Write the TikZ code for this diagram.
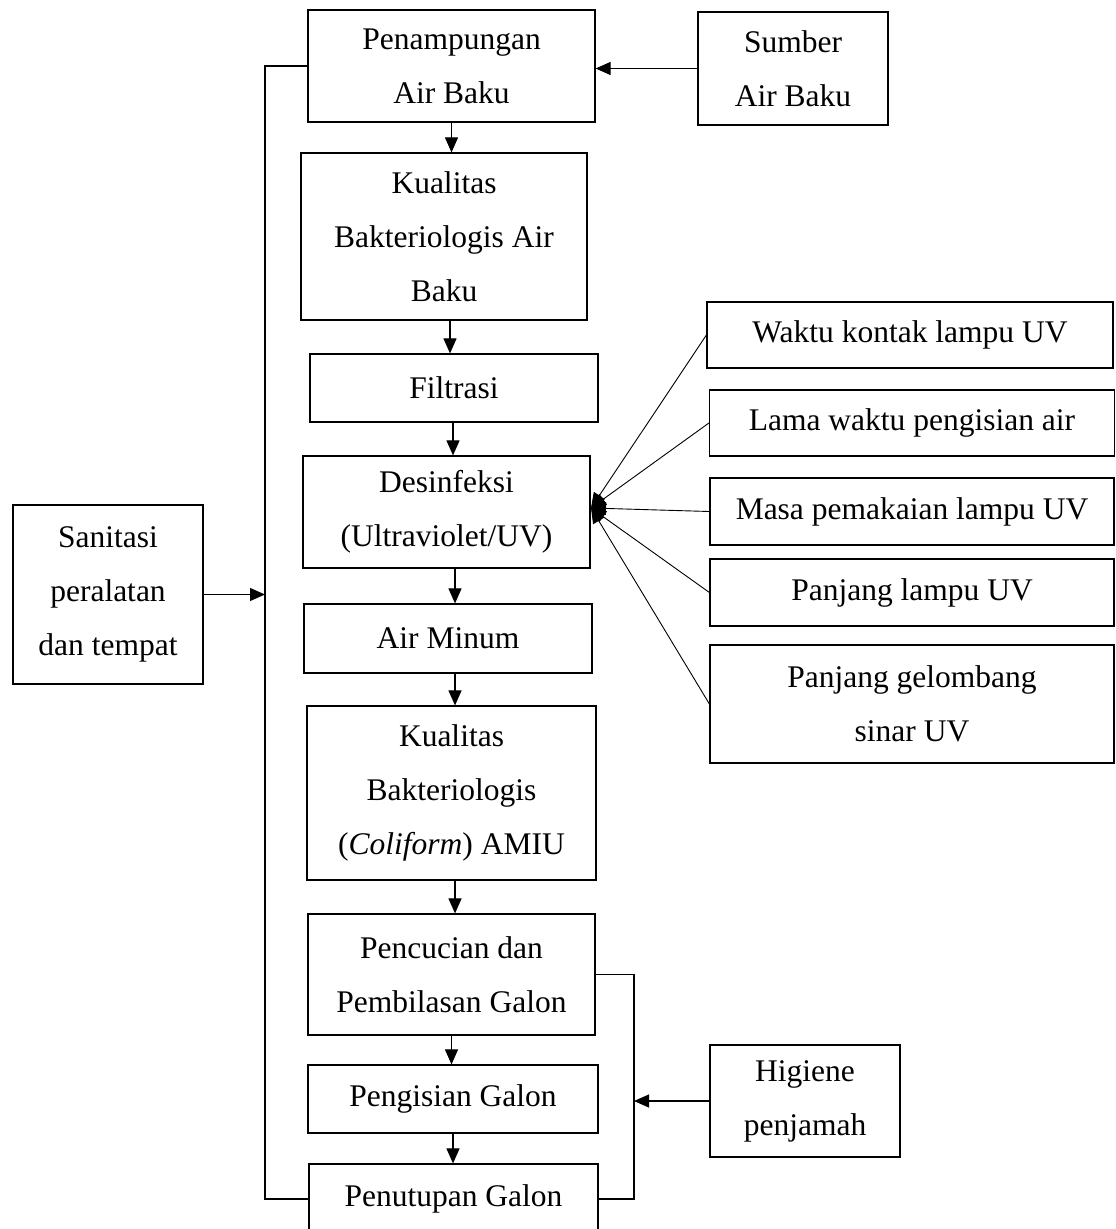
\documentclass[tikz,border=0pt]{standalone}
\usepackage{fontspec}
\setmainfont{Liberation Serif}
\usetikzlibrary{arrows.meta}
\begin{document}
\begin{tikzpicture}[x=1pt,y=-1pt,
  box/.style={draw, line width=1.2pt, align=center, inner sep=0pt, font=\fontsize{31.5pt}{54pt}\selectfont},
  arr/.style={-{Triangle[length=15pt,width=13pt]}, line width=1.1pt},
  uvarr/.style={-{Triangle[length=15pt,width=13pt]}, line width=0.9pt},
  ln/.style={line width=1.1pt}]
\useasboundingbox (0,0) rectangle (1116,1229);
\fill[white] (0,0) rectangle (1116,1229);
\clip (0,0) rectangle (1116,1229);
% main column
\node[box, minimum width=287pt, minimum height=112pt] (pen) at (451.5,66) {Penampungan\\Air Baku};
\node[box, minimum width=190pt, minimum height=113pt] (sum) at (793,68.5) {Sumber\\Air Baku};
\node[box, minimum width=286pt, minimum height=167pt] (kb) at (444,236.5) {Kualitas\\Bakteriologis Air\\Baku};
\node[box, minimum width=288pt, minimum height=68pt] (fil) at (454,388) {Filtrasi};
\node[box, minimum width=287pt, minimum height=112pt] (des) at (446.5,512) {Desinfeksi\\(Ultraviolet/UV)};
\node[box, minimum width=288pt, minimum height=69pt] (am) at (448,638.5) {Air Minum};
\node[box, minimum width=289pt, minimum height=174pt] (kc) at (451.5,793) {Kualitas\\Bakteriologis\\(\textit{Coliform}) AMIU};
\node[box, minimum width=287pt, minimum height=121pt] (pc) at (451.5,974.5) {Pencucian dan\\Pembilasan Galon};
\node[box, minimum width=290pt, minimum height=68pt] (pg) at (453,1099) {Pengisian Galon};
\node[box, minimum width=289pt, minimum height=70pt] (pt) at (453.5,1199) {Penutupan Galon};
% side boxes
\node[box, minimum width=190pt, minimum height=179pt] (san) at (108,594.5) {Sanitasi\\peralatan\\dan tempat};
\node[box, minimum width=406pt, minimum height=66pt] (wak) at (910,335) {Waktu kontak lampu UV};
\node[box, minimum width=405pt, minimum height=66pt] (lam) at (912,423) {Lama waktu pengisian air};
\node[box, minimum width=404pt, minimum height=67pt] (mas) at (912,511.5) {Masa pemakaian lampu UV};
\node[box, minimum width=404pt, minimum height=67pt] (pl) at (912,592.5) {Panjang lampu UV};
\node[box, minimum width=404pt, minimum height=118pt] (pgl) at (912,704) {Panjang gelombang\\sinar UV};
\node[box, minimum width=190pt, minimum height=112pt] (hig) at (805,1101) {Higiene\\penjamah};
% helper coordinates
\coordinate (L) at (265,0);
\coordinate (R) at (634,0);
\coordinate (D) at (591,508);
\coordinate (x1) at (450,0);
\coordinate (x2) at (453,0);
\coordinate (x3) at (455,0);
% vertical arrows
\draw[arr] (pen.south) -- (pen.south |- kb.north);
\draw[arr] (kb.south -| x1) -- (fil.north -| x1);
\draw[arr] (fil.south -| x2) -- (des.north -| x2);
\draw[arr] (des.south -| x3) -- (am.north -| x3);
\draw[arr] (am.south -| x3) -- (kc.north -| x3);
\draw[arr] (kc.south -| x3) -- (pc.north -| x3);
\draw[arr] (pc.south) -- (pc.south |- pg.north);
\draw[arr] (pg.south) -- (pg.south |- pt.north);
% side arrows
\draw[arr] (sum.west) -- (sum.west -| pen.east);
\draw[ln] (pen.west) -- (pen.west -| L) |- (pt.west);
\draw[arr] (san.east) -- (san.east -| L);
\draw[ln] (pc.east) -- (pc.east -| R) |- (pt.east);
\draw[arr] (hig.west) -- (hig.west -| R);
% UV factor arrows
\draw[uvarr] (wak.west) -- (D);
\draw[uvarr] (lam.west) -- (D);
\draw[uvarr] (mas.west) -- (D);
\draw[uvarr] (pl.west) -- (D);
\draw[uvarr] (pgl.west) -- (D);
\end{tikzpicture}
\end{document}
